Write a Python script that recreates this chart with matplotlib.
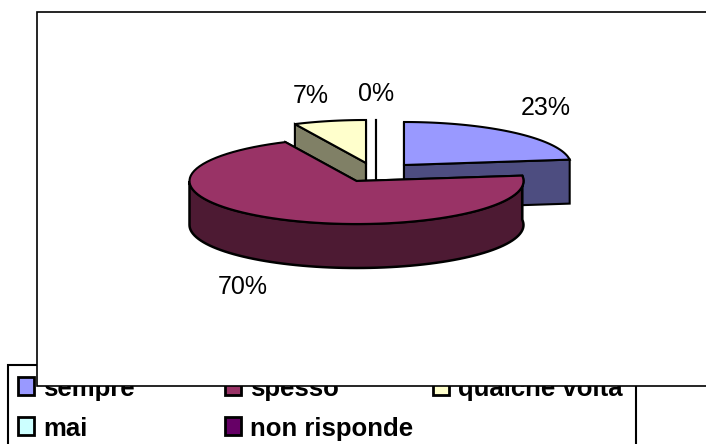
import numpy as np
import matplotlib
matplotlib.use('Agg')
from matplotlib import pyplot as plt
from matplotlib.patches import Polygon, Rectangle

categories = ['sempre', 'spesso', 'qualche volta', 'mai', 'non risponde']
values = [23, 70, 7, 0, 0]
top_colors = ['#9999ff', '#993366', '#ffffcc', '#ccffff', '#660066']
side_colors = ['#4d4d80', '#4d1a33', '#808066', '#668080', '#330033']

plt.rcParams['font.family'] = ['Liberation Sans', 'DejaVu Sans']

# exploded slice centres in pixels, same order as the categories
centers = [(404, 165), (356.5, 181), (366, 163), (376, 163), (376, 163)]
label_pos = [(546, 108), (243, 287), (311, 96), (376, 94), (376, 94)]
RX, RY, DEPTH = 167, 43, 44

fig = plt.figure(figsize=(7.06, 4.44), dpi=100)
ax = fig.add_axes([0, 0, 1, 1])
ax.set_xlim(0, 706)
ax.set_ylim(444, 0)
ax.axis('off')


def arc(c, a0, a1):
    t = np.radians(np.linspace(a0, a1, 80))
    return np.column_stack([c[0] + RX * np.cos(t), c[1] - RY * np.sin(t)])


# legend box sits under the plot frame
ax.add_patch(Rectangle((8, 365), 628, 90, fc='white', ec='black', lw=1.5, zorder=1))
legend_x = [18, 225, 433, 18, 225]
legend_y = [377, 377, 377, 417, 417]
for name, col, x, y in zip(categories, top_colors, legend_x, legend_y):
    ax.add_patch(Rectangle((x, y), 16, 18, fc=col, ec='black', lw=2, zorder=2))
    ax.text(x + 25, y + 19, name, fontsize=18.5, fontweight='bold', va='baseline', zorder=2)

ax.add_patch(Rectangle((37, 12), 700, 374, fc='white', ec='black', lw=1.2, zorder=3))

# slices, clockwise from 12 o'clock
angle = 90.0
total = sum(values)
# draw order: back slices first, big front slice last
order = [2, 3, 4, 0, 1]
spans = []
for v in values:
    spans.append((angle, angle - v / total * 360))
    angle -= v / total * 360

for i in order:
    a0, a1 = spans[i]
    c = centers[i]
    if values[i] == 0:
        ax.plot([c[0], c[0]], [c[1] - RY, c[1] + DEPTH / 2], color='black', lw=1.5, zorder=4)
        continue
    top = arc(c, a0, a1)
    down = np.array([0, DEPTH])
    # flat cut faces
    for rim in (top[0], top[-1]):
        face = [c, rim, rim + down, np.array(c) + down]
        ax.add_patch(Polygon(face, fc=side_colors[i], ec='black', lw=1.5, zorder=4))
    # outer wall, only the part facing front
    if a0 > -180 and a1 < -180:
        wall = arc(c, a0, -180)
        pts = np.vstack([wall, (wall + down)[::-1]])
        ax.add_patch(Polygon(pts, fc=side_colors[i], ec='black', lw=1.8, zorder=4))
    ax.add_patch(Polygon(np.vstack([[c], top]), fc=top_colors[i], ec='black', lw=1.5, zorder=4))

for v, (x, y) in zip(values[:4], label_pos[:4]):
    ax.text(x, y, '%d%%' % v, fontsize=18, ha='center', va='center', zorder=5)

fig.savefig('out.png', dpi=100)
